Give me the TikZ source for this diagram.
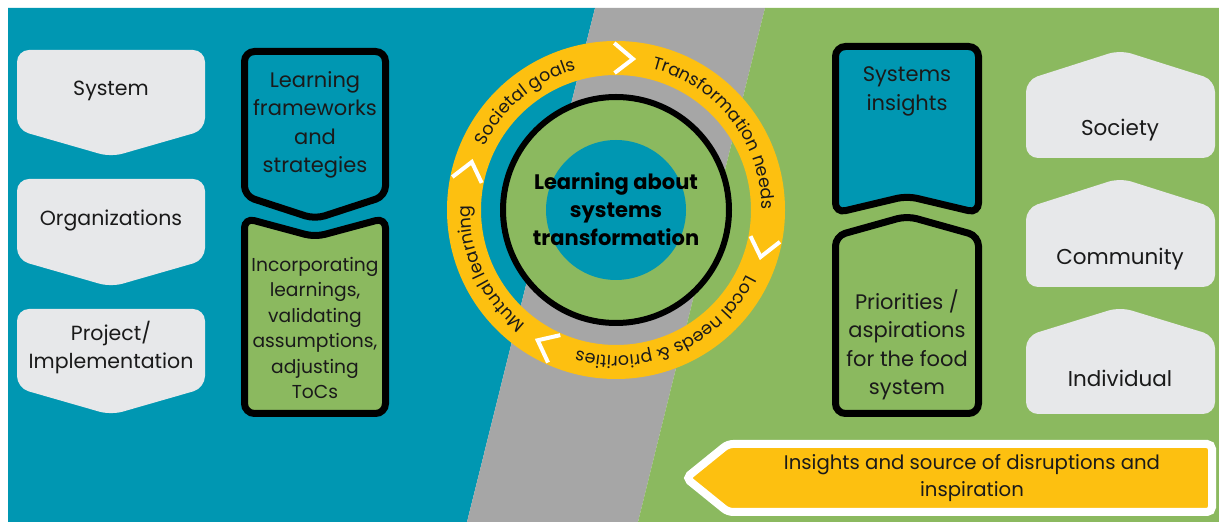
\documentclass[tikz,border=0pt]{standalone}
\usepackage{fontspec}
\setmainfont{Poppins}
\usetikzlibrary{decorations.text,calc}

\definecolor{teal}{RGB}{0,151,178}
\definecolor{leaf}{RGB}{139,185,95}
\definecolor{stone}{RGB}{166,166,166}
\definecolor{sun}{RGB}{253,192,16}
\definecolor{cloud}{RGB}{231,232,234}
\definecolor{ink}{RGB}{26,26,26}

\newcommand{\ringtext}{\fontsize{17.5}{17.5}\selectfont\color{ink}}

\tikzset{
  levelbox/.style={fill=cloud, rounded corners=12pt},
  stagebox/.style={draw=black, line width=7pt, rounded corners=10pt},
  lbl/.style={text=ink, align=center, font=\fontsize{20.5}{28}\selectfont},
  rlbl/.style={text=ink, align=center, font=\fontsize{21.5}{28}\selectfont},
  stagelbl/.style={text=ink, align=center, font=\fontsize{21}{28.5}\selectfont},
  smalllbl/.style={text=ink, align=center, font=\fontsize{18.7}{25.5}\selectfont},
  chev/.style={draw=white, line width=4pt, line join=miter},
  ringlbl/.style={decorate, decoration={text along path, text align=center}},
}

\begin{document}
\begin{tikzpicture}[x=1pt,y=1pt]
\useasboundingbox (0,0) rectangle (1219,522);
\fill[white] (0,0) rectangle (1219,522);

% three diagonal bands
\fill[teal]  (8,0) -- (467,0) -- (595,514) -- (8,514) -- cycle;
\fill[stone] (467,0) -- (638,0) -- (765,514) -- (595,514) -- cycle;
\fill[leaf]  (638,0) -- (1219,0) -- (1219,514) -- (765,514) -- cycle;

% left column: levels pointing down
\fill[levelbox] (17,472) -- (205,472) -- (205,392) -- (111,365) -- (17,392) -- cycle;
\fill[levelbox] (17,343) -- (205,343) -- (205,262) -- (111,235) -- (17,262) -- cycle;
\fill[levelbox] (17,213) -- (205,213) -- (205,134) -- (111,107) -- (17,134) -- cycle;
\node[lbl] (system) at (111,431) {System};
\node[lbl] (orgs) at (111,302) {Organizations};
\node[lbl] (project) at (111,174) {Project/\\Implementation};

% right column: levels pointing up
\fill[levelbox] (1026,364) -- (1215,364) -- (1215,442) -- (1120,472) -- (1026,442) -- cycle;
\fill[levelbox] (1026,235) -- (1215,235) -- (1215,314) -- (1120,344) -- (1026,314) -- cycle;
\fill[levelbox] (1026,108) -- (1215,108) -- (1215,186) -- (1120,215) -- (1026,186) -- cycle;
\node[rlbl] (society) at (1120,392) {Society};
\node[rlbl] (community) at (1120,263) {Community};
\node[rlbl] (individual) at (1120,144) {Individual};

% left stage boxes
\filldraw[stagebox, fill=teal] (244.5,470.5) -- (385.5,470.5) -- (385.5,326) -- (315,303) -- (244.5,326) -- cycle;
\filldraw[stagebox, fill=leaf] (244.5,304) -- (315,285) -- (385.5,304) -- (385.5,108.5) -- (244.5,108.5) -- cycle;
\node[stagelbl] (frameworks) at (315,397) {Learning\\frameworks\\and\\strategies};
\node[smalllbl] (incorporating) at (315,194) {Incorporating\\learnings,\\validating\\assumptions,\\adjusting\\ToCs};

% right stage boxes
\filldraw[stagebox, fill=teal] (835.5,475.5) -- (978.5,475.5) -- (978.5,309) -- (907,326) -- (835.5,309) -- cycle;
\filldraw[stagebox, fill=leaf] (835.5,286) -- (907,306) -- (978.5,286) -- (978.5,108.5) -- (835.5,108.5) -- cycle;
\node[stagelbl] (insights) at (907,430.5) {Systems\\insights};
\node[stagelbl] (priorities) at (907,177) {Priorities /\\aspirations\\for the food\\system};

% central learning cycle
\coordinate (c) at (616,312);
\draw[sun, line width=34pt] (c) circle[radius=152];
\filldraw[fill=leaf, draw=black, line width=6pt] (c) circle[radius=113];
\fill[teal] (c) circle[radius=70];
\node[text=black, align=center, font=\fontsize{21}{28}\selectfont\bfseries] (core) at (616,313)
  {Learning about\\systems\\transformation};

% clockwise arrowheads on the ring
\foreach \a in {83.6,-18,-121,161.6}{
  \draw[chev] ($(c)+(\a+7:137)$) -- ($(c)+(\a:152)$) -- ($(c)+(\a+7:167)$);
}

% ring labels, read clockwise
\path[ringlbl, decoration={text={|\ringtext|Societal goals}}]
  ($(c)+(175:146)$) arc[start angle=175, end angle=85, radius=146];
\path[ringlbl, decoration={text={|\ringtext|Transformation needs}}]
  ($(c)+(88:146)$) arc[start angle=88, end angle=-12, radius=146];
\path[ringlbl, decoration={text={|\ringtext|Local needs {\&} priorities}}]
  ($(c)+(-16:146)$) arc[start angle=-16, end angle=-116, radius=146];
\path[ringlbl, decoration={text={|\ringtext|Mutual learning}}]
  ($(c)+(-110:146)$) arc[start angle=-110, end angle=-200, radius=146];

% incoming arrow at the bottom
\filldraw[fill=sun, draw=white, line width=8pt, rounded corners=5pt]
  (728,78) -- (1212,78) -- (1212,10) -- (728,10) -- (686,44) -- cycle;
\node[text=ink, align=center, font=\fontsize{19.7}{27}\selectfont] (disruptions) at (972,43.5)
  {Insights and source of disruptions and\\inspiration};
\end{tikzpicture}
\end{document}
